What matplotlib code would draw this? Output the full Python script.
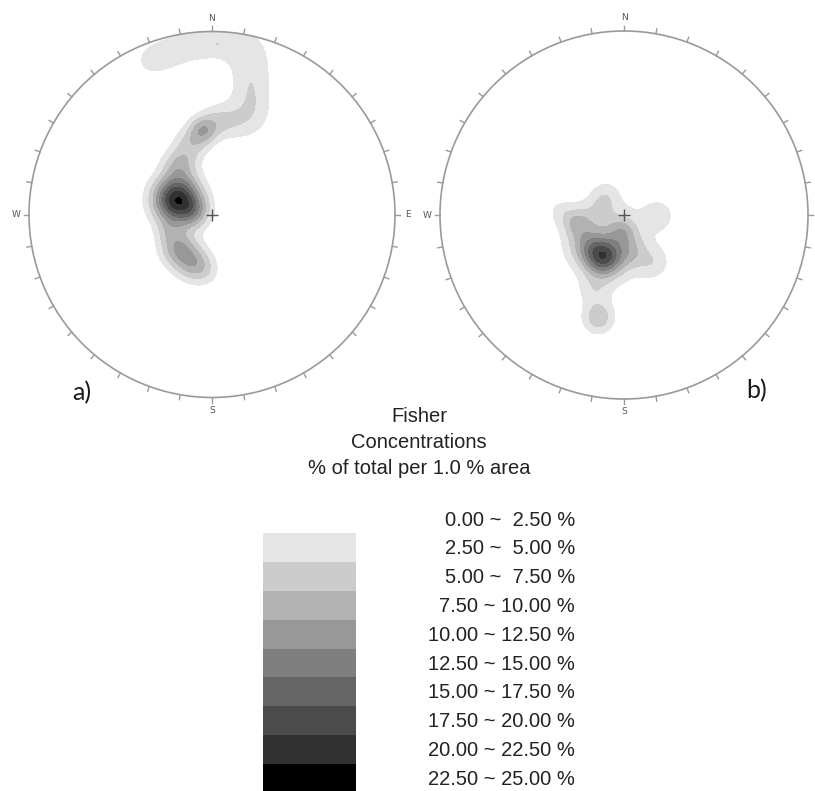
import numpy as np
import matplotlib.pyplot as plt
from matplotlib.patches import Circle

# legend bins, % of total per 1.0 % area
bin_edges = [0.0, 2.5, 5.0, 7.5, 10.0, 12.5, 15.0, 17.5, 20.0, 22.5, 25.0]
bin_grays = ['#ffffff', '#e5e5e5', '#cccccc', '#b2b2b2', '#989898',
             '#7f7f7f', '#656565', '#4b4b4b', '#313131', '#000000']
bin_labels = ['0.00 ~  2.50 %', '2.50 ~  5.00 %', '5.00 ~  7.50 %', '7.50 ~ 10.00 %',
              '10.00 ~ 12.50 %', '12.50 ~ 15.00 %', '15.00 ~ 17.50 %',
              '17.50 ~ 20.00 %', '20.00 ~ 22.50 %', '22.50 ~ 25.00 %']

a_x = [-0.34, -0.22, -0.09, 0.04, 0.18, 0.22, 0.21, 0.22, 0.21, 0.11, 0.03,
       0.03, -0.05, -0.12, -0.18, -0.19, -0.09, -0.19, -0.11, -0.04, -0.24]
a_y = [0.84, 0.89, 0.93, 0.94, 0.93, 0.83, 0.72, 0.62, 0.52, 0.50, 0.93,
       0.52, 0.46, 0.38, 0.27, 0.08, 0.01, -0.18, -0.26, -0.31, -0.09]
a_peak = [2.6, 2.6, 2.6, 2.6, 2.6, 2.6, 2.6, 2.6, 2.6, 2.4, 1.1,
          3.5, 8.0, 5.0, 6.0, 22.0, 5.0, 8.0, 7.5, 3.0, 2.5]
a_sd = [0.08, 0.08, 0.08, 0.08, 0.08, 0.08, 0.08, 0.08, 0.08, 0.07, 0.02,
        0.065, 0.055, 0.065, 0.065, 0.09, 0.06, 0.07, 0.07, 0.06, 0.05]

# net b
b_x = [-0.07, -0.11, -0.20, -0.26, -0.01, -0.13, 0.04, 0.19, 0.16, -0.14, -0.16, -0.35, -0.10]
b_y = [-0.14, -0.23, -0.16, -0.04, -0.09, 0.02, -0.20, 0.00, -0.26, -0.56, -0.41, 0.02, 0.11]
b_peak = [3.8, 15.0, 6.0, 5.5, 5.5, 3.0, 4.0, 3.0, 3.0, 6.5, 3.0, 2.0, 2.5]
b_sd = [0.19, 0.07, 0.07, 0.055, 0.055, 0.06, 0.06, 0.06, 0.06, 0.06, 0.06, 0.05, 0.05]

W, H = 815, 791
fig = plt.figure(figsize=(W / 100, H / 100), dpi=100)
plt.rcParams['font.family'] = ['Liberation Sans', 'DejaVu Sans']


def density(xs, ys, peaks, sds, grid):
    X, Y = grid
    Z = np.zeros_like(X)
    for x0, y0, p, s in zip(xs, ys, peaks, sds):
        Z += p * np.exp(-((X - x0) ** 2 + (Y - y0) ** 2) / (2 * s ** 2))
    return Z


def draw_net(cx, cy, r, xs, ys, peaks, sds):
    half = 1.12 * r
    ax = fig.add_axes([(cx - half) / W, (H - cy - half) / H, 2 * half / W, 2 * half / H])
    ax.set_xlim(-1.12, 1.12)
    ax.set_ylim(-1.12, 1.12)
    ax.set_aspect('equal')
    ax.axis('off')
    ax.patch.set_alpha(0)

    g = np.linspace(-1, 1, 500)
    grid = np.meshgrid(g, g)
    Z = np.clip(density(xs, ys, peaks, sds, grid), 0, 24.9)
    cs = ax.contourf(grid[0], grid[1], Z, levels=bin_edges[1:], colors=bin_grays[1:])
    cs.set_clip_path(Circle((0, 0), 1, transform=ax.transData))

    ax.add_patch(Circle((0, 0), 1, fill=False, ec='#9a9a9a', lw=1.2))
    tick = 5 / r
    for ang in np.deg2rad(np.arange(0, 360, 10)):
        ax.plot([np.sin(ang), (1 + tick) * np.sin(ang)],
                [np.cos(ang), (1 + tick) * np.cos(ang)], color='#9a9a9a', lw=1.0)
    off = 1 + 13 / r
    for lab, (dx, dy) in zip('NESW', [(0, 1), (1, 0), (0, -1), (-1, 0)]):
        if cx + dx * off * r > W - 8:
            continue  # falls off the picture, as in the original
        ax.text(dx * off, dy * off, lab, ha='center', va='center', fontsize=6.5,
                color='#555555', family='DejaVu Sans', clip_on=False)
    ax.plot([0], [0], marker='+', ms=9, mew=1.0, color='#555555')
    return ax


draw_net(212, 214.5, 183, a_x, a_y, a_peak, a_sd)
draw_net(624, 215, 184, b_x, b_y, b_peak, b_sd)

# legend and panel letters, pixel coordinates
leg = fig.add_axes([0, 0, 1, 1])
leg.set_xlim(0, W)
leg.set_ylim(H, 0)
leg.axis('off')
leg.patch.set_alpha(0)

leg.text(82, 393, 'a)', fontsize=18, family=['Lato', 'DejaVu Sans'], color='#1a1a1a',
         ha='center', va='center')
leg.text(757, 391, 'b)', fontsize=18, family=['Lato', 'DejaVu Sans'], color='#1a1a1a',
         ha='center', va='center')

for i, line in enumerate(['Fisher', 'Concentrations', '% of total per 1.0 % area']):
    leg.text(419, 416 + 26.5 * i, line, fontsize=14.5, color='#222222',
             ha='center', va='center')

rows = np.arange(len(bin_labels))
row_y = 519 + 28.8 * rows
leg.bar(263, 28.8, width=93, bottom=row_y[1:] - 14.4, color=bin_grays[1:], align='edge', lw=0)
for y, lab in zip(row_y, bin_labels):
    leg.text(575, y + 1, lab, fontsize=14.5, color='#222222', ha='right', va='center')

fig.savefig('out.png', dpi=100)
